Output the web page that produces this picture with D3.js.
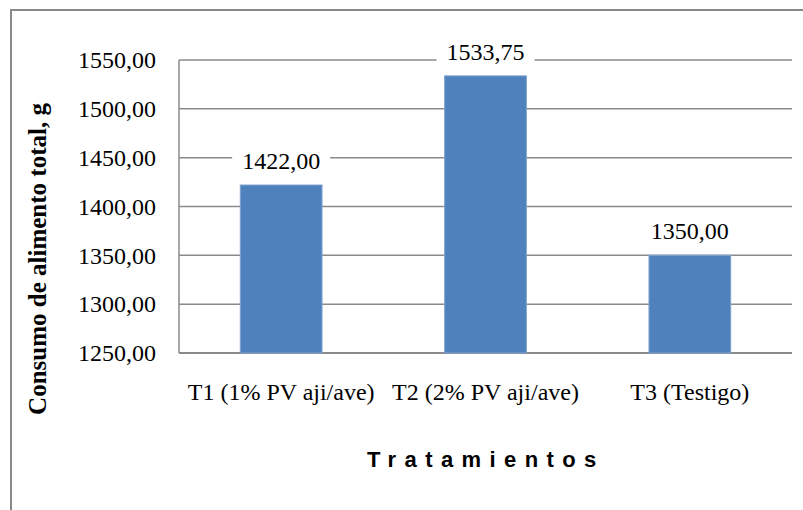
<!DOCTYPE html>
<html>
<head>
<meta charset="utf-8">
<script src="https://cdn.jsdelivr.net/npm/d3@7"></script>
<style>
  body { margin: 0; background: #fff; }
  svg { display: block; }
  .serif { font-family: "Liberation Serif", "Times New Roman", "DejaVu Serif", serif; }
  .sans { font-family: "Liberation Sans", Arial, sans-serif; }
</style>
</head>
<body>
<div id="chart"></div>
<script>
// data
var categories = ["T1 (1% PV aji/ave)", "T2 (2% PV aji/ave)", "T3 (Testigo)"];
var values = [1422.00, 1533.75, 1350.00];
var yTicks = [1250, 1300, 1350, 1400, 1450, 1500, 1550];

var width = 803, height = 510;
var margin = { top: 60, right: 11, bottom: 157, left: 179 };

var fmt = function(v) { return v.toFixed(2).replace(".", ","); };

var svg = d3.select("#chart").append("svg")
  .attr("width", width)
  .attr("height", height);

// outer chart border (only top and left visible in the picture)
svg.append("path")
  .attr("d", "M11,515 L11,10 L805,10")
  .attr("fill", "none")
  .attr("stroke", "#888")
  .attr("stroke-width", 2);

var x = d3.scaleBand()
  .domain(categories)
  .range([margin.left, width - margin.right])
  .paddingInner(0.6)
  .paddingOuter(0.3);

var y = d3.scaleLinear()
  .domain([1250, 1550])
  .range([height - margin.bottom, margin.top]);

// grid lines
svg.append("g")
  .selectAll("line")
  .data(yTicks)
  .enter()
  .append("line")
  .attr("x1", margin.left)
  .attr("x2", width - margin.right)
  .attr("y1", function(d) { return y(d); })
  .attr("y2", function(d) { return y(d); })
  .attr("stroke", "#8a8a8a")
  .attr("stroke-width", function(d) { return d === 1250 ? 2 : 1.5; });

// left axis line
svg.append("line")
  .attr("x1", margin.left).attr("x2", margin.left)
  .attr("y1", y(1550)).attr("y2", y(1250))
  .attr("stroke", "#8a8a8a")
  .attr("stroke-width", 1.5);

// y tick labels
var yAxis = d3.axisLeft(y).tickValues(yTicks).tickFormat(fmt).tickSize(0).tickPadding(23);
var gy = svg.append("g")
  .attr("transform", "translate(" + margin.left + ",0)")
  .call(yAxis)
  .attr("font-family", null)
  .attr("font-size", null);
gy.select(".domain").remove();
gy.selectAll("text")
  .attr("class", "serif")
  .style("font-size", "24px")
  .attr("fill", "#000");

// x category labels
var xAxis = d3.axisBottom(x).tickSize(0).tickPadding(30);
var gx = svg.append("g")
  .attr("transform", "translate(0," + y(1250) + ")")
  .call(xAxis)
  .attr("font-family", null)
  .attr("font-size", null);
gx.select(".domain").remove();
gx.selectAll("text")
  .attr("class", "serif")
  .style("font-size", "24px")
  .attr("fill", "#000");

// bars
svg.selectAll(".bar")
  .data(values)
  .enter()
  .append("rect")
  .attr("class", "bar")
  .attr("x", function(d, i) { return x(categories[i]); })
  .attr("width", x.bandwidth())
  .attr("y", function(d) { return y(d); })
  .attr("height", function(d) { return y(1250) - y(d); })
  .attr("fill", "#4f81bd")
  .attr("stroke", "#7ea3d1")
  .attr("stroke-width", 1);

// value labels with white boxes
var labels = svg.selectAll(".lbl")
  .data(values)
  .enter()
  .append("g")
  .attr("class", "lbl")
  .attr("transform", function(d, i) {
    return "translate(" + (x(categories[i]) + x.bandwidth() / 2) + "," + (y(d) - 16) + ")";
  });
labels.append("rect")
  .attr("x", -49).attr("y", -22)
  .attr("width", 98).attr("height", 28)
  .attr("fill", "#fff");
labels.append("text")
  .attr("class", "serif")
  .attr("text-anchor", "middle")
  .style("font-size", "24px")
  .attr("fill", "#000")
  .text(function(d) { return fmt(d); });

// axis titles
svg.append("text")
  .attr("class", "serif")
  .attr("transform", "translate(46,259) rotate(-90)")
  .attr("text-anchor", "middle")
  .style("font-weight", "bold")
  .style("font-size", "25px")
  .text("Consumo de alimento total, g");

svg.append("text")
  .attr("class", "sans")
  .attr("x", 367)
  .attr("y", 467)
  .style("font-weight", "bold")
  .style("font-size", "22px")
  .style("letter-spacing", "8.4px")
  .text("Tratamientos");
</script>
</body>
</html>
